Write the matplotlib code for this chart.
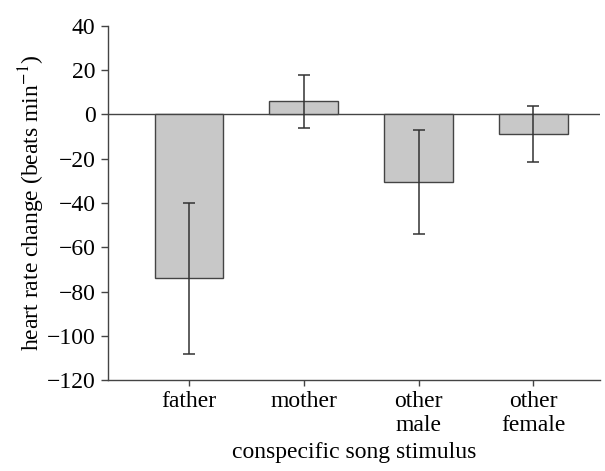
import matplotlib
matplotlib.use('Agg')
import matplotlib.pyplot as plt

# values
categories = ['father', 'mother', 'other\nmale', 'other\nfemale']
means = [-74, 6, -30.5, -9]
errors = [34, 12, 23.5, 12.7]
yticks = [-120, -100, -80, -60, -40, -20, 0, 20, 40]

plt.rcParams['font.family'] = ['Liberation Serif', 'DejaVu Serif']
plt.rcParams['mathtext.fontset'] = 'stix'
plt.rcParams['font.size'] = 17

fig = plt.figure(figsize=(6.05, 4.71), dpi=100)
ax = fig.add_axes([0.1785, 0.193, 0.813, 0.752])

x = range(len(categories))
ax.bar(x, means, width=0.6, color='#c8c8c8', edgecolor='#444444', linewidth=1.0, zorder=2)
ax.errorbar(x, means, yerr=errors, fmt='none', ecolor='#333333', elinewidth=1.1,
            capsize=4, capthick=1.1, zorder=3)
ax.axhline(0, color='#444444', linewidth=1.0, zorder=1)

ax.set_xlim(-0.706, 3.58)
ax.set_ylim(-120, 40)
ax.set_yticks(yticks)
ax.set_xticks(list(x))
ax.set_xticklabels(categories, linespacing=1.2)

for s in ['top', 'right']:
    ax.spines[s].set_visible(False)
for s in ['left', 'bottom']:
    ax.spines[s].set_color('#444444')
    ax.spines[s].set_linewidth(1.0)
ax.tick_params(axis='y', direction='out', length=5, width=1, color='#444444', pad=4)
ax.tick_params(axis='x', direction='out', length=4, width=1, color='#444444', pad=4)

ax.set_ylabel('heart rate change (beats min$^{-1}$)', labelpad=0)
ax.set_xlabel('conspecific song stimulus', labelpad=4)

fig.savefig('out.png', dpi=100)
